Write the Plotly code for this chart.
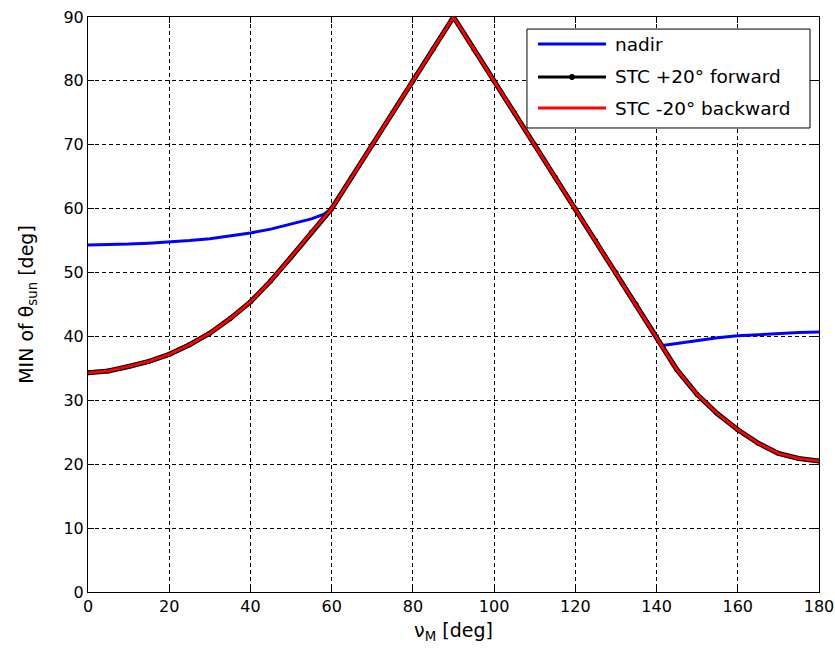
import plotly.graph_objects as go

# Orbit anomaly grid [deg]
nu_m = [0, 5, 10, 15, 20, 25, 30, 35, 40, 45, 50, 55, 60, 65, 70, 75, 80, 85, 90,
        95, 100, 105, 110, 115, 120, 125, 130, 135, 140, 145, 150, 155, 160, 165,
        170, 175, 180]

# Minimum sun angle for the stereo (STC) viewing directions [deg]
stc_forward = [34.3, 34.6, 35.3, 36.1, 37.2, 38.7, 40.5, 42.8, 45.4, 48.7, 52.4, 56.3,
               60, 65, 70, 75, 80, 85, 90, 85, 80, 75, 70, 65, 60, 55, 50, 45, 40,
               34.8, 30.9, 27.9, 25.4, 23.3, 21.7, 20.9, 20.5]
stc_backward = [34.3, 34.6, 35.3, 36.1, 37.2, 38.7, 40.5, 42.8, 45.4, 48.7, 52.4, 56.3,
                60, 65, 70, 75, 80, 85, 90, 85, 80, 75, 70, 65, 60, 55, 50, 45, 40,
                34.8, 30.9, 27.9, 25.4, 23.3, 21.7, 20.9, 20.5]

# Nadir view has its own sampling around the branch points
nu_nadir = [0, 5, 10, 15, 20, 25, 30, 35, 40, 45, 50, 55, 58, 60, 65, 70, 75, 80, 85,
            90, 95, 100, 105, 110, 115, 120, 125, 130, 135, 140, 141.5, 145, 150, 155,
            160, 165, 170, 175, 180]
nadir = [54.3, 54.35, 54.45, 54.6, 54.75, 55.0, 55.3, 55.7, 56.2, 56.8, 57.6, 58.4,
         59.1, 60, 65, 70, 75, 80, 85, 90, 85, 80, 75, 70, 65, 60, 55, 50, 45, 40,
         38.6, 38.9, 39.4, 39.8, 40.1, 40.3, 40.5, 40.6, 40.7]

series_names = ["nadir", "STC +20° forward", "STC -20° backward"]
series_colors = ["rgb(0,0,255)", "black", "rgb(255,0,0)"]

x_ticks = [0, 20, 40, 60, 80, 100, 120, 140, 160, 180]
y_ticks = [0, 10, 20, 30, 40, 50, 60, 70, 80, 90]

font_family = "DejaVu Sans"

fig = go.Figure()
fig.add_trace(go.Scatter(
    x=nu_nadir, y=nadir, mode="lines", name=series_names[0],
    line=dict(color=series_colors[0], width=3),
))
fig.add_trace(go.Scatter(
    x=nu_m, y=stc_forward, mode="lines+markers", name=series_names[1],
    line=dict(color=series_colors[1], width=5),
    marker=dict(color="black", size=5, symbol="circle"),
))
fig.add_trace(go.Scatter(
    x=nu_m, y=stc_backward, mode="lines", name=series_names[2],
    line=dict(color=series_colors[2], width=2.8),
))

axis_common = dict(
    showline=True, linecolor="black", linewidth=1, mirror="ticks",
    ticks="inside", ticklen=6, tickcolor="black", tickwidth=1,
    showgrid=True, gridcolor="black", gridwidth=1, griddash="4px,3px",
    zeroline=False, automargin=False,
    tickfont=dict(family=font_family, size=16, color="black"),
)

fig.update_xaxes(
    range=[0, 180], tickvals=x_ticks, ticktext=[str(v) for v in x_ticks],
    title=dict(text="ν<sub>M</sub> [deg]", standoff=8,
               font=dict(family=font_family, size=19, color="black")),
    **axis_common,
)
fig.update_yaxes(
    range=[0, 90], tickvals=y_ticks, ticktext=[str(v) for v in y_ticks],
    title=dict(text="MIN of θ<sub>sun</sub> [deg]", standoff=24,
               font=dict(family=font_family, size=19, color="black")),
    **axis_common,
)

# Legend box drawn in axes-fraction coordinates (upper right corner)
leg_x0, leg_x1 = 0.6005, 0.9877
leg_y0, leg_y1 = 0.807, 0.979
row_y = [0.953, 0.8957, 0.8417]
line_x0, line_x1 = 0.6156, 0.7086
text_x = 0.7182

fig.add_shape(type="rect", xref="paper", yref="paper",
              x0=leg_x0, x1=leg_x1, y0=leg_y0, y1=leg_y1,
              line=dict(color="black", width=1), fillcolor="white", layer="above")
for name, color, ry in zip(series_names, series_colors, row_y):
    fig.add_shape(type="line", xref="paper", yref="paper",
                  x0=line_x0, x1=line_x1, y0=ry, y1=ry,
                  line=dict(color=color, width=3), layer="above")
    fig.add_annotation(x=text_x, y=ry, xref="paper", yref="paper",
                       text=name, showarrow=False, xanchor="left", yanchor="middle",
                       font=dict(family=font_family, size=18.5, color="black"))
# marker dot on the forward-STC sample line
mid_x = (line_x0 + line_x1) / 2
fig.add_shape(type="circle", xref="paper", yref="paper",
              x0=mid_x - 0.0035, x1=mid_x + 0.0035,
              y0=row_y[1] - 0.0045, y1=row_y[1] + 0.0045,
              line=dict(color="black", width=1), fillcolor="black", layer="above")

fig.update_layout(
    width=835, height=660,
    margin=dict(l=88, r=16, t=17, b=68),
    paper_bgcolor="white", plot_bgcolor="white",
    showlegend=False,
)

fig.write_html("out.html")
